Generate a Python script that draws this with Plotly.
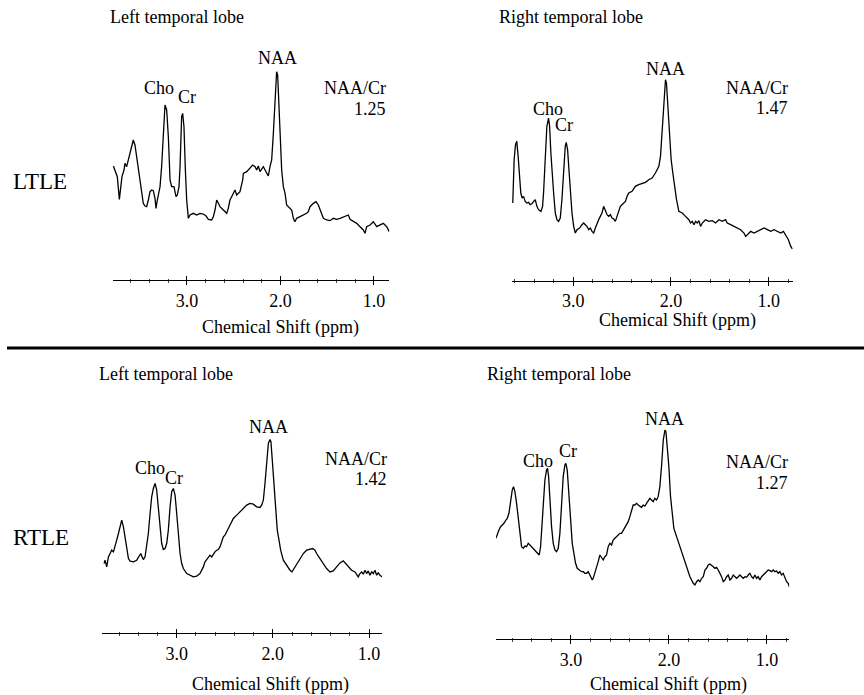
import plotly.graph_objects as go

# ---------------- data (chemical shift in ppm, signal intensity in a.u.) ----------------
ltle_left_ppm = [3.787, 3.762, 3.745, 3.723, 3.705, 3.695, 3.673, 3.663, 3.645, 3.627, 3.609, 3.591, 3.574, 3.556,
                 3.538, 3.520, 3.502, 3.484, 3.467, 3.449, 3.431, 3.413, 3.395, 3.377, 3.360, 3.342, 3.331, 3.317,
                 3.288, 3.271, 3.253, 3.235, 3.217, 3.199, 3.181, 3.164, 3.139, 3.117, 3.103, 3.085, 3.074, 3.057,
                 3.046, 3.032, 3.017, 3.003, 2.985, 2.967, 2.932, 2.896, 2.861, 2.825, 2.796, 2.771, 2.736, 2.718,
                 2.700, 2.682, 2.664, 2.647, 2.611, 2.575, 2.558, 2.540, 2.522, 2.504, 2.486, 2.468, 2.433, 2.404,
                 2.397, 2.361, 2.326, 2.297, 2.272, 2.254, 2.237, 2.219, 2.183, 2.148, 2.130, 2.112, 2.094, 2.076,
                 2.058, 2.041, 2.030, 2.016, 2.005, 1.987, 1.969, 1.951, 1.934, 1.898, 1.880, 1.862, 1.845, 1.827,
                 1.791, 1.755, 1.720, 1.702, 1.684, 1.648, 1.620, 1.595, 1.559, 1.541, 1.506, 1.470, 1.435, 1.399,
                 1.363, 1.310, 1.274, 1.256, 1.221, 1.185, 1.149, 1.114, 1.096, 1.078, 1.042, 1.007, 0.971, 0.935,
                 0.900, 0.864, 0.836]
ltle_left_int = [342, 320, 310, 242, 280, 310, 330, 350, 340, 360, 380, 395, 420, 405,
                 370, 320, 290, 260, 230, 222, 220, 240, 265, 270, 268, 245, 215, 240,
                 280, 340, 440, 525, 510, 430, 300, 280, 280, 250, 255, 280, 340, 490,
                 500, 460, 330, 240, 185, 195, 200, 195, 200, 198, 192, 182, 180, 190,
                 210, 240, 230, 220, 210, 200, 215, 240, 250, 260, 270, 255, 265, 300,
                 320, 325, 335, 345, 340, 330, 342, 325, 340, 320, 312, 340, 360, 440,
                 560, 625, 615, 530, 460, 330, 280, 260, 225, 215, 210, 185, 175, 185,
                 190, 195, 200, 205, 220, 230, 235, 225, 200, 185, 180, 178, 185, 182,
                 185, 190, 195, 182, 175, 170, 160, 150, 140, 160, 165, 175, 160, 165,
                 170, 160, 145]

ltle_right_ppm = [3.619, 3.605, 3.591, 3.578, 3.564, 3.550, 3.537, 3.523, 3.509, 3.492, 3.475, 3.458, 3.441, 3.424,
                  3.407, 3.389, 3.372, 3.355, 3.331, 3.314, 3.304, 3.287, 3.270, 3.253, 3.242, 3.229, 3.215, 3.201,
                  3.184, 3.167, 3.150, 3.133, 3.116, 3.099, 3.082, 3.072, 3.058, 3.044, 3.030, 3.013, 2.996, 2.979,
                  2.962, 2.935, 2.911, 2.894, 2.877, 2.860, 2.842, 2.825, 2.808, 2.791, 2.774, 2.757, 2.740, 2.723,
                  2.706, 2.689, 2.671, 2.654, 2.637, 2.620, 2.603, 2.586, 2.569, 2.552, 2.535, 2.518, 2.501, 2.483,
                  2.466, 2.449, 2.432, 2.398, 2.381, 2.364, 2.330, 2.295, 2.261, 2.227, 2.193, 2.159, 2.142, 2.124,
                  2.107, 2.090, 2.073, 2.056, 2.046, 2.032, 2.015, 1.998, 1.981, 1.964, 1.943, 1.919, 1.885, 1.851,
                  1.817, 1.800, 1.782, 1.765, 1.748, 1.731, 1.714, 1.697, 1.680, 1.646, 1.612, 1.577, 1.543, 1.509,
                  1.475, 1.441, 1.424, 1.389, 1.355, 1.321, 1.287, 1.253, 1.236, 1.218, 1.184, 1.150, 1.116, 1.082,
                  1.047, 1.013, 0.979, 0.945, 0.911, 0.877, 0.849, 0.825, 0.798, 0.774, 0.757]
ltle_right_int = [233, 363, 408, 418, 373, 303, 263, 248, 253, 238, 233, 235, 228, 231,
                  238, 243, 223, 213, 208, 223, 263, 363, 463, 488, 463, 383, 313, 263,
                  203, 183, 178, 188, 243, 333, 403, 415, 393, 333, 263, 203, 163, 143,
                  153, 158, 168, 173, 168, 163, 153, 158, 148, 143, 158, 173, 183, 193,
                  203, 223, 208, 198, 193, 198, 188, 185, 178, 193, 213, 223, 228, 233,
                  238, 253, 263, 268, 278, 283, 288, 291, 295, 303, 308, 323, 333, 343,
                  373, 443, 533, 603, 593, 533, 443, 363, 323, 283, 243, 208, 203, 193,
                  183, 173, 178, 168, 178, 173, 180, 163, 173, 183, 178, 180, 173, 183,
                  178, 183, 173, 168, 163, 158, 153, 143, 133, 138, 148, 143, 148, 153,
                  158, 153, 148, 153, 148, 143, 148, 138, 123, 103, 95]

rtle_left_ppm = [3.755, 3.745, 3.728, 3.710, 3.693, 3.676, 3.658, 3.641, 3.624, 3.606, 3.589, 3.572, 3.554, 3.537,
                 3.520, 3.502, 3.485, 3.450, 3.416, 3.388, 3.374, 3.360, 3.347, 3.329, 3.312, 3.295, 3.277, 3.260,
                 3.243, 3.225, 3.208, 3.191, 3.173, 3.156, 3.139, 3.121, 3.104, 3.087, 3.069, 3.052, 3.035, 3.017,
                 3.000, 2.983, 2.965, 2.948, 2.931, 2.896, 2.862, 2.827, 2.792, 2.758, 2.723, 2.706, 2.688, 2.671,
                 2.654, 2.636, 2.619, 2.602, 2.584, 2.567, 2.550, 2.532, 2.515, 2.498, 2.480, 2.463, 2.446, 2.428,
                 2.411, 2.376, 2.342, 2.307, 2.272, 2.238, 2.203, 2.169, 2.134, 2.117, 2.099, 2.082, 2.065, 2.047,
                 2.030, 2.020, 2.006, 1.988, 1.971, 1.954, 1.936, 1.919, 1.891, 1.857, 1.822, 1.801, 1.780, 1.753,
                 1.718, 1.683, 1.649, 1.614, 1.586, 1.562, 1.545, 1.510, 1.476, 1.441, 1.406, 1.372, 1.337, 1.302,
                 1.268, 1.240, 1.216, 1.181, 1.146, 1.129, 1.112, 1.094, 1.077, 1.060, 1.042, 1.025, 1.008, 0.990,
                 0.973, 0.956, 0.938, 0.921, 0.904, 0.886, 0.862]
rtle_left_int = [209, 219, 199, 229, 239, 249, 244, 259, 279, 299, 324, 339, 319, 289,
                 254, 224, 216, 214, 219, 234, 239, 229, 221, 229, 259, 299, 359, 409,
                 434, 449, 429, 379, 319, 269, 251, 254, 269, 309, 379, 424, 434, 414,
                 359, 289, 239, 209, 194, 179, 174, 169, 171, 179, 199, 214, 221, 229,
                 234, 229, 239, 244, 249, 251, 259, 274, 289, 294, 304, 314, 324, 334,
                 344, 354, 364, 374, 384, 389, 387, 379, 377, 384, 399, 449, 519, 569,
                 581, 574, 519, 439, 369, 309, 279, 249, 219, 204, 189, 184, 194, 209,
                 224, 239, 249, 251, 254, 249, 239, 224, 209, 194, 184, 187, 199, 211,
                 217, 209, 199, 189, 184, 174, 169, 179, 184, 177, 189, 179, 187, 174,
                 184, 179, 189, 174, 181, 174, 169]

rtle_right_ppm = [3.766, 3.752, 3.735, 3.718, 3.701, 3.684, 3.664, 3.650, 3.633, 3.616, 3.599, 3.586, 3.572, 3.555,
                  3.538, 3.521, 3.504, 3.487, 3.470, 3.453, 3.436, 3.419, 3.402, 3.385, 3.368, 3.351, 3.334, 3.324,
                  3.310, 3.296, 3.283, 3.266, 3.249, 3.239, 3.228, 3.215, 3.198, 3.181, 3.164, 3.147, 3.130, 3.113,
                  3.096, 3.079, 3.062, 3.052, 3.038, 3.021, 3.004, 2.987, 2.970, 2.953, 2.936, 2.909, 2.892, 2.875,
                  2.858, 2.841, 2.824, 2.807, 2.783, 2.773, 2.756, 2.739, 2.722, 2.705, 2.688, 2.671, 2.654, 2.637,
                  2.620, 2.603, 2.586, 2.569, 2.552, 2.535, 2.518, 2.501, 2.484, 2.467, 2.450, 2.433, 2.416, 2.399,
                  2.382, 2.365, 2.348, 2.331, 2.314, 2.297, 2.280, 2.263, 2.246, 2.229, 2.212, 2.195, 2.178, 2.161,
                  2.144, 2.127, 2.110, 2.093, 2.076, 2.058, 2.041, 2.031, 2.018, 2.001, 1.984, 1.967, 1.950, 1.922,
                  1.888, 1.854, 1.820, 1.786, 1.752, 1.735, 1.718, 1.701, 1.684, 1.667, 1.650, 1.633, 1.616, 1.599,
                  1.582, 1.565, 1.548, 1.531, 1.514, 1.497, 1.480, 1.463, 1.446, 1.429, 1.412, 1.395, 1.378, 1.361,
                  1.344, 1.327, 1.310, 1.293, 1.276, 1.259, 1.242, 1.225, 1.208, 1.191, 1.174, 1.157, 1.140, 1.123,
                  1.106, 1.089, 1.072, 1.055, 1.038, 1.021, 1.004, 0.987, 0.970, 0.953, 0.936, 0.919, 0.902, 0.885,
                  0.868, 0.851, 0.834, 0.817, 0.800, 0.783, 0.773]
rtle_right_int = [302, 317, 327, 337, 342, 347, 357, 362, 377, 417, 447, 457, 442, 407,
                  357, 307, 277, 272, 279, 277, 287, 282, 277, 272, 267, 262, 257, 252,
                  277, 337, 417, 477, 507, 512, 487, 417, 337, 287, 267, 262, 272, 317,
                  397, 487, 522, 527, 507, 427, 347, 287, 257, 227, 212, 207, 202, 202,
                  197, 197, 202, 192, 177, 182, 197, 217, 232, 252, 245, 237, 247, 252,
                  277, 287, 282, 297, 302, 307, 312, 317, 317, 327, 332, 342, 352, 367,
                  387, 402, 402, 407, 402, 399, 395, 402, 399, 407, 417, 422, 417, 412,
                  422, 417, 427, 457, 517, 597, 627, 622, 577, 517, 427, 367, 332, 307,
                  277, 247, 217, 187, 167, 162, 172, 177, 172, 182, 187, 207, 212, 222,
                  225, 222, 217, 212, 215, 207, 197, 187, 172, 177, 187, 192, 177, 182,
                  192, 187, 182, 187, 192, 187, 182, 187, 185, 192, 197, 187, 182, 192,
                  182, 187, 177, 187, 192, 197, 202, 207, 205, 202, 207, 202, 204, 197,
                  202, 192, 197, 182, 172, 167, 157]

tick_vals = [3.0, 2.0, 1.0]
tick_text = ["3.0", "2.0", "1.0"]
naa_cr = ["1.25", "1.47", "1.42", "1.27"]
panel_titles = ["Left temporal lobe", "Right temporal lobe", "Left temporal lobe", "Right temporal lobe"]
group_labels = ["LTLE", "RTLE"]
axis_title = "Chemical Shift (ppm)"

# ---------------- layout helpers ----------------
W, H = 864, 695
FONT = "Liberation Serif"


def px(x):
    return x / W


def py(y):
    return 1 - y / H


panels = [
    dict(ppm=ltle_left_ppm, inten=ltle_left_int, xpx=(113, 389.3), ypx=(60, 280), xr=(3.791, 0.836), ytop=660),
    dict(ppm=ltle_right_ppm, inten=ltle_right_int, xpx=(511.7, 792.7), ypx=(60, 280.7), xr=(3.630, 0.754), ytop=662),
    dict(ppm=rtle_left_ppm, inten=rtle_left_int, xpx=(101.7, 382), ypx=(400, 633.3), xr=(3.780, 0.865), ytop=699),
    dict(ppm=rtle_right_ppm, inten=rtle_right_int, xpx=(496, 789.3), ypx=(400, 639), xr=(3.765, 0.772), ytop=717),
]

fig = go.Figure()
layout = dict(
    width=W, height=H,
    margin=dict(l=0, r=0, t=0, b=0),
    paper_bgcolor="white", plot_bgcolor="rgba(0,0,0,0)",
    showlegend=False,
    font=dict(family=FONT, size=18, color="black"),
)

minor_style = dict(ticklen=1.5, tickwidth=1, tickcolor="#444", dtick=0.2, tick0=1.0, showgrid=False)

for i, p in enumerate(panels):
    n = "" if i == 0 else str(i + 1)
    m = str(i + 5)  # overlay axis carrying the upward half of the cross ticks
    fig.add_trace(go.Scatter(
        x=p["ppm"], y=p["inten"], mode="lines",
        line=dict(color="black", width=1.3),
        xaxis="x" + n, yaxis="y" + n, hoverinfo="skip",
    ))
    fig.add_trace(go.Scatter(x=[], y=[], mode="lines", xaxis="x" + m, yaxis="y" + n, hoverinfo="skip"))
    xdom = [px(p["xpx"][0]), px(p["xpx"][1])]
    layout["xaxis" + n] = dict(
        domain=xdom, range=list(p["xr"]), anchor="y" + n,
        showline=True, linecolor="black", linewidth=1.3,
        showgrid=False, zeroline=False,
        ticks="outside", ticklen=4, tickwidth=1.3, tickcolor="black",
        tickvals=tick_vals, ticktext=tick_text,
        tickfont=dict(family=FONT, size=18, color="black"),
        minor=dict(ticks="outside", **minor_style),
        fixedrange=True,
    )
    layout["xaxis" + m] = dict(
        domain=xdom, range=list(p["xr"]), anchor="y" + n, overlaying="x" + n, side="bottom",
        showline=False, showgrid=False, zeroline=False, showticklabels=False,
        ticks="inside", ticklen=4, tickwidth=1.3, tickcolor="black", tickvals=tick_vals,
        minor=dict(ticks="inside", **minor_style),
        fixedrange=True,
    )
    layout["yaxis" + n] = dict(
        domain=[py(p["ypx"][1]), py(p["ypx"][0])],
        range=[0, p["ytop"]], anchor="x" + n, visible=False, fixedrange=True,
    )

annotations = []


def ann(text, x, y, size=18, xanchor="center", yanchor="middle"):
    annotations.append(dict(text=text, x=px(x), y=py(y), xref="paper", yref="paper",
                            showarrow=False, xanchor=xanchor, yanchor=yanchor,
                            font=dict(family=FONT, size=size, color="black")))


# panel titles
ann(panel_titles[0], 108, 17, xanchor="left")
ann(panel_titles[1], 497, 17, xanchor="left")
ann(panel_titles[2], 97, 374, xanchor="left")
ann(panel_titles[3], 485, 374, xanchor="left")
# group labels
ann(group_labels[0], 11, 182, size=23, xanchor="left")
ann(group_labels[1], 11, 537, size=23, xanchor="left")
# axis titles
ann(axis_title, 280, 327)
ann(axis_title, 677, 320)
ann(axis_title, 270, 684)
ann(axis_title, 668, 684)
# peak labels
ann("Cho", 158.5, 88); ann("Cr", 187, 97); ann("NAA", 277, 58)
ann("Cho", 548, 109); ann("Cr", 564, 125); ann("NAA", 665.5, 69)
ann("Cho", 150, 468); ann("Cr", 173.5, 478); ann("NAA", 268.5, 427)
ann("Cho", 538, 461); ann("Cr", 568, 451); ann("NAA", 664.5, 419)
# NAA/Cr ratios
for (xr, y1, y2), val in zip([(388, 88, 109), (790, 88, 108), (389, 459, 479), (790, 462, 483)], naa_cr):
    ann("NAA/Cr", xr, y1, xanchor="right")
    ann(val, xr, y2, xanchor="right")

layout["annotations"] = annotations
layout["shapes"] = [dict(type="line", xref="paper", yref="paper",
                         x0=px(7), x1=1, y0=py(348), y1=py(348),
                         line=dict(color="black", width=3))]

fig.update_layout(**layout)
fig.write_html("out.html", config={"displayModeBar": False},
               post_script="document.body.style.margin='0';document.body.style.overflow='hidden';")
